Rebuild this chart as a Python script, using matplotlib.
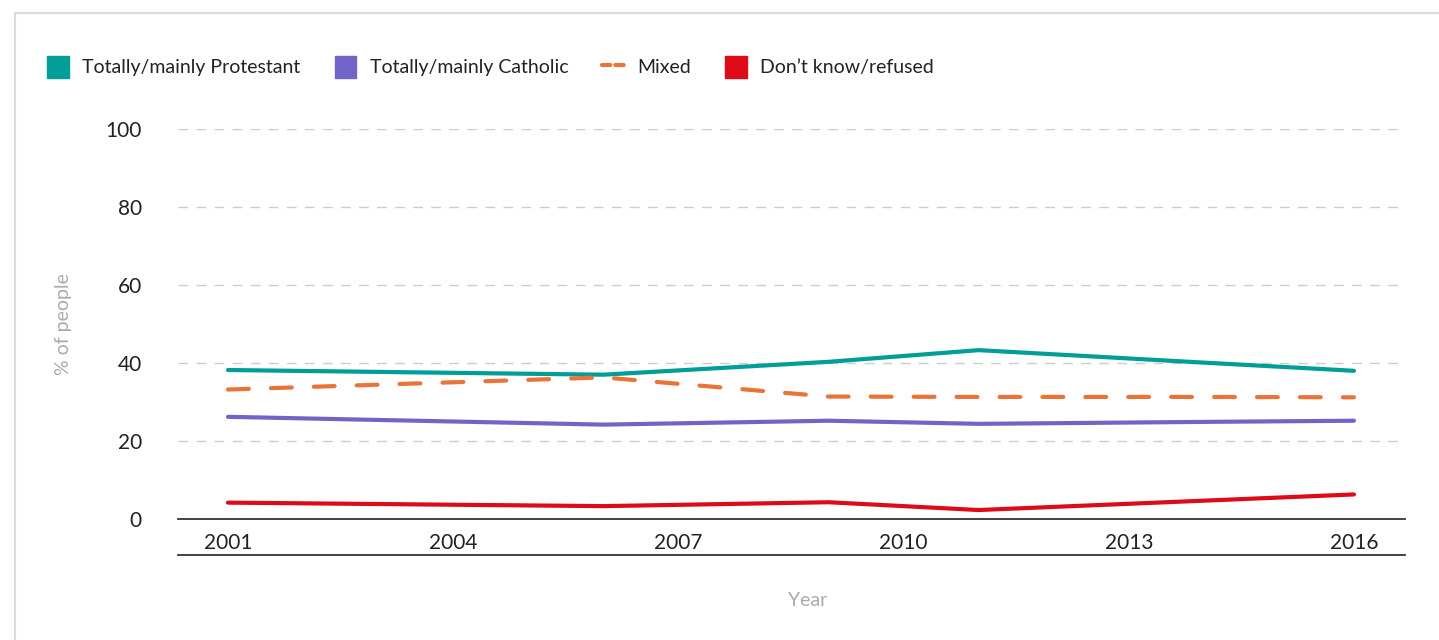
import matplotlib.pyplot as plt
from matplotlib.patches import Patch, Rectangle
from matplotlib.lines import Line2D

# values
years = [2001, 2006, 2009, 2011, 2014, 2016]
protestant = [38.2, 37.0, 40.3, 43.3, 40.1, 38.0]
catholic = [26.2, 24.2, 25.2, 24.4, 24.9, 25.2]
mixed = [33.2, 36.3, 31.4, 31.3, 31.3, 31.2]
dont_know = [4.2, 3.3, 4.3, 2.3, 4.7, 6.3]

labels = ["Totally/mainly Protestant", "Totally/mainly Catholic", "Mixed", "Don\u2019t know/refused"]
xticks = [2001, 2004, 2007, 2010, 2013, 2016]
yticks = [0, 20, 40, 60, 80, 100]

teal = "#009e96"
purple = "#7264c6"
orange = "#ea733a"
red = "#dd0b18"

plt.rcParams['font.family'] = ['Lato', 'DejaVu Sans']

fig = plt.figure(figsize=(14.39, 6.4), dpi=100)
ax = fig.add_axes([178/1439, 121/640, 1227/1439, 390/640])

# light frame round the whole chart
fig.patches.append(Rectangle((15/1439, -0.05), 1.2, 1 - 13/640 + 0.05,
                             transform=fig.transFigure, fill=False,
                             edgecolor="#dcdcdc", linewidth=1.5))

ax.plot(years, protestant, color=teal, lw=3, solid_capstyle="round")
ax.plot(years, catholic, color=purple, lw=3, solid_capstyle="round")
ax.plot(years, mixed, color=orange, lw=3, dashes=(5, 5.3), dash_capstyle="round")
ax.plot(years, dont_know, color=red, lw=3, solid_capstyle="round")

ax.set_xlim(2000.334, 2016.68)
ax.set_ylim(0, 100)
ax.set_xticks(xticks)
ax.set_yticks(yticks)
ax.tick_params(axis="both", length=0, labelsize=15, colors="#222222")
ax.tick_params(axis="x", pad=10)
ax.tick_params(axis="y", pad=26)
ax.grid(axis="y", color="#cccccc", lw=1, linestyle=(0, (7, 6)))
ax.set_axisbelow(True)
for s in ["top", "right", "left"]:
    ax.spines[s].set_visible(False)
ax.spines["bottom"].set_color("#333333")
ax.spines["bottom"].set_linewidth(1.3)
ax.spines["bottom"].set_zorder(5)
# second rule under the year labels
ax.plot([0, 1], [-36/390, -36/390], transform=ax.transAxes, color="#333333",
        lw=1.3, clip_on=False)

ax.set_ylabel("% of people", color="#aaaaaa", fontsize=14, labelpad=24)
ax.set_xlabel("Year", color="#aaaaaa", fontsize=14)
ax.xaxis.set_label_coords((808 - 178) / 1227, -(600 - 519) / 390)
ax.xaxis.label.set_va("center")

handles = [Patch(color=teal), Patch(color=purple),
           Line2D([], [], color=orange, lw=3, dashes=(2, 1.2), dash_capstyle="round"),
           Patch(color=red)]
fig.legend(handles, labels, loc="center left", bbox_to_anchor=(30/1439, 1 - 67/640),
           ncol=4, frameon=False, fontsize=14, handlelength=1.1, handleheight=1.4,
           handletextpad=0.7, columnspacing=1.75, labelcolor="#222222")

fig.savefig("out.png", dpi=100)
